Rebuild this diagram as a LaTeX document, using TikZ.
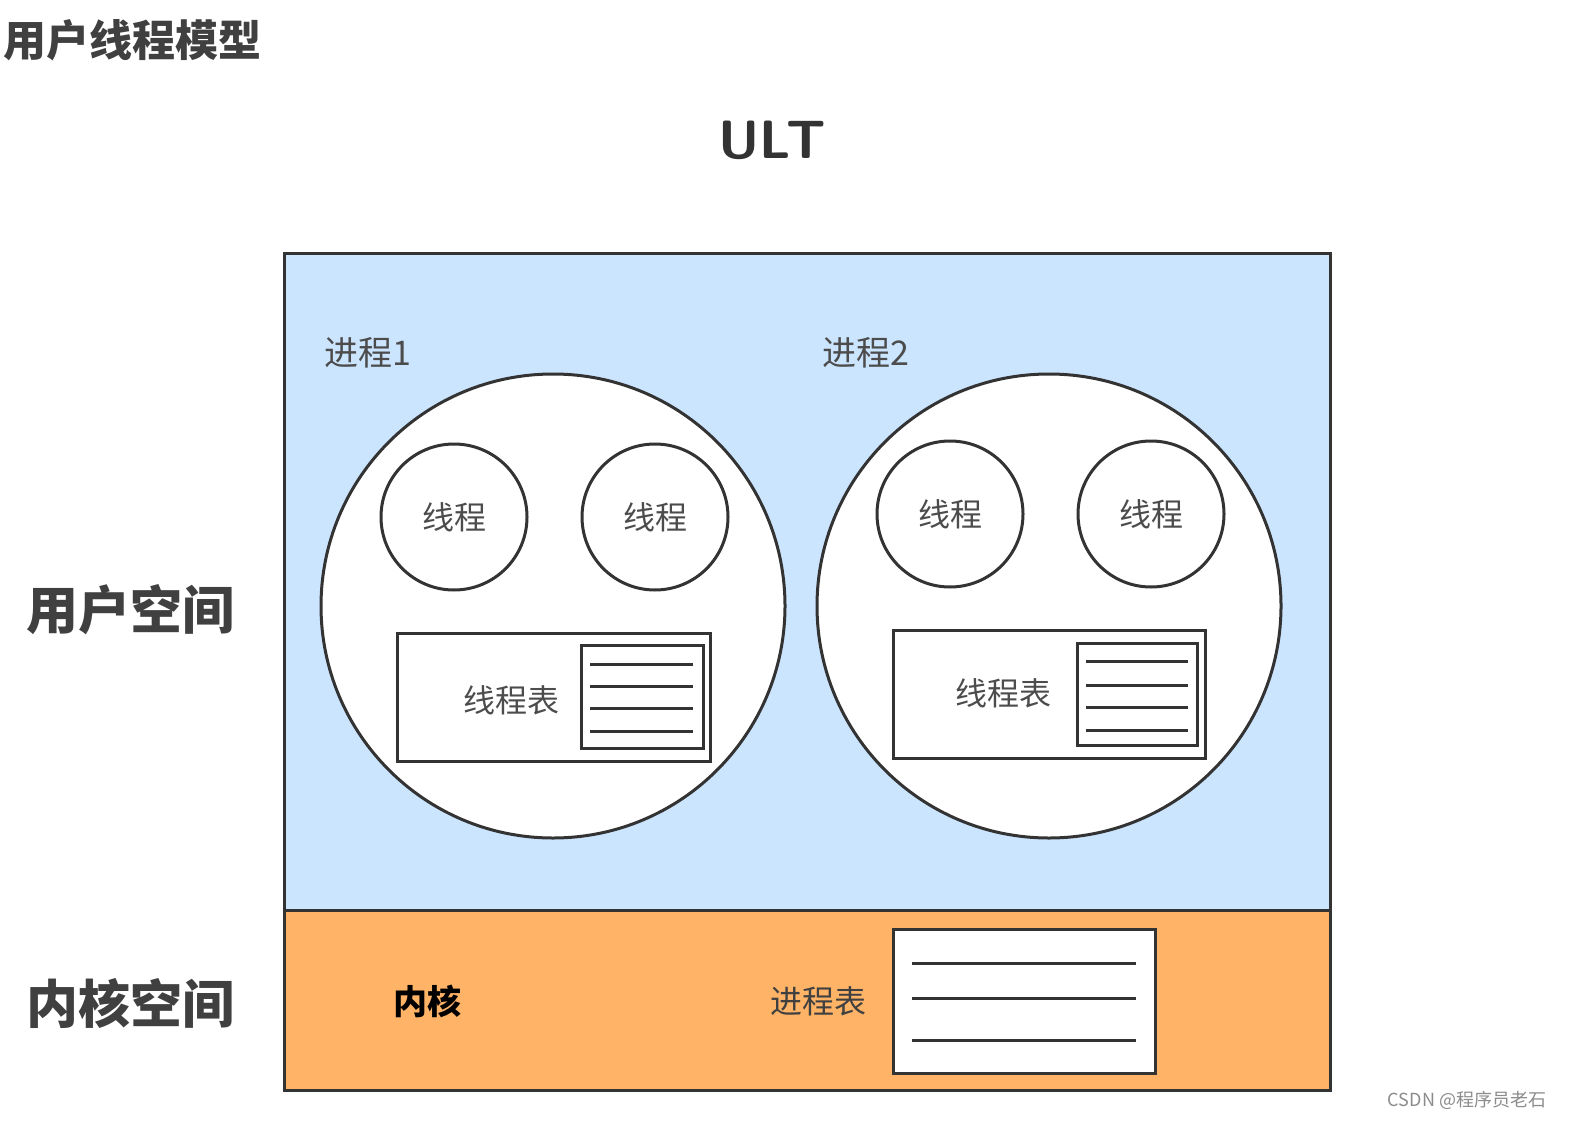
\documentclass[tikz,border=0pt]{standalone}
\usepackage{fontspec}
\setmainfont{Noto Sans CJK SC}
\begin{document}
\begin{tikzpicture}[x=1pt,y=-1pt,
  bx/.style={draw=black!80,line width=3pt},
  ln/.style={draw=black!80,line width=3pt},
  lbl/.style={font=\fontsize{34}{36}\selectfont,text=black!70},
  big/.style={font=\fontsize{52}{56}\selectfont\bfseries,text=black!75}]
\useasboundingbox (0,0) rectangle (1573,1123);
\fill[white] (0,0) rectangle (1573,1123);
\node[font=\fontsize{43}{45}\selectfont\bfseries,text=black!75,anchor=west] (title) at (0,40) {用户线程模型};
\node[font=\fontsize{54}{58}\selectfont\bfseries\sffamily,text=black!80] (ult) at (772,140) {ULT};
\draw[bx,fill={rgb,255:red,204;green,229;blue,255}] (284,254) rectangle (1330,910);
\draw[bx,fill={rgb,255:red,255;green,179;blue,102}] (284,910) rectangle (1330,1090);
\node[big] (us) at (130,610) {用户空间};
\node[big] (ks) at (130,1003) {内核空间};
\node[lbl] (p1l) at (368,353) {进程1};
\node[lbl] (p2l) at (866,353) {进程2};
\foreach \cx/\n in {553/a,1049/b}{
  \draw[bx,fill=white] (\cx,606) circle (232);
}
\foreach \x/\y in {454/517,655/517,950/514,1151/514}{
  \draw[bx,fill=white] (\x,\y) circle (73);
  \node[lbl,font=\fontsize{32}{34}\selectfont] at (\x,\y) {线程};
}
\draw[bx,fill=white] (397,633) rectangle (710,761);
\draw[bx] (581,645) rectangle (703,748);
\foreach \y in {664,686,708,731} \draw[ln] (590,\y) -- (693,\y);
\node[lbl,font=\fontsize{32}{34}\selectfont] (t1) at (511,700) {线程表};
\draw[bx,fill=white] (893,630) rectangle (1205,758);
\draw[bx] (1077,643) rectangle (1197,745);
\foreach \y in {661,685,707,730} \draw[ln] (1086,\y) -- (1188,\y);
\node[lbl,font=\fontsize{32}{34}\selectfont] (t2) at (1003,693) {线程表};
\node[font=\fontsize{34}{36}\selectfont\bfseries,text=black] (nk) at (427,1001) {内核};
\node[font=\fontsize{32}{34}\selectfont,text=black!75] (pt) at (818,1001) {进程表};
\draw[bx,fill=white] (893,929) rectangle (1155,1073);
\foreach \y in {963,998,1040} \draw[ln] (912,\y) -- (1136,\y);
\node[font=\fontsize{18}{20}\selectfont,text=black!45] (wm) at (1467,1100) {CSDN @程序员老石};
\end{tikzpicture}
\end{document}
